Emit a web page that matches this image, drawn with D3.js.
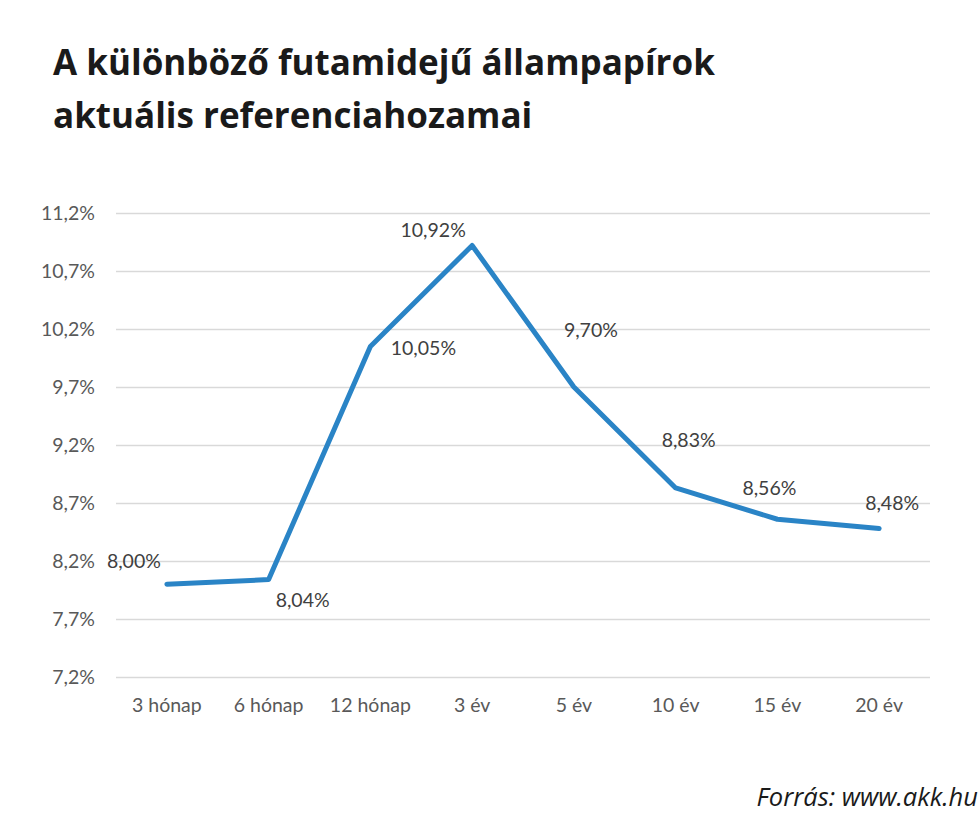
<!DOCTYPE html>
<html><head><meta charset="utf-8">
<script src="https://cdn.jsdelivr.net/npm/d3@7"></script>
<style>body{margin:0;background:#fff}svg{display:block}</style>
</head><body>
<svg id="chart" width="980" height="818"></svg>
<script>
const categories = ["3 hónap","6 hónap","12 hónap","3 év","5 év","10 év","15 év","20 év"];
const yields = [8.00, 8.04, 10.05, 10.92, 9.70, 8.83, 8.56, 8.48];
const yTicks = [7.2, 7.7, 8.2, 8.7, 9.2, 9.7, 10.2, 10.7, 11.2];
const titleLines = ["A különböző futamidejű állampapírok", "aktuális referenciahozamai"];
const sourceText = "Forrás: www.akk.hu";
// label offsets (dx, dy) from each point, in px
const labelOffsets = [[-33,-23],[34,21],[53,2],[-39,-15],[17,-57],[13,-48],[-8,-31],[13,-25]];

const svg = d3.select("#chart");
const fmt = v => v.toFixed(2).replace(".", ",") + "%";
const fmtTick = v => v.toFixed(1).replace(".", ",") + "%";

const x = d3.scaleBand().domain(categories).range([116, 930]);
const y = d3.scaleLinear().domain([7.2, 11.2]).range([677, 213]);

// title
svg.append("g").selectAll("text").data(titleLines).join("text")
  .attr("x", 53).attr("y", (d,i) => 75 + i*53)
  .attr("font-family", "'Open Sans', sans-serif").attr("font-weight", 700)
  .attr("font-size", 35).attr("fill", "#1a1a1a")
  .text(d => d);

// grid
const yAxis = d3.axisLeft(y).tickValues(yTicks).tickFormat(fmtTick).tickSize(-(930-116)).tickPadding(21);
const gy = svg.append("g").attr("transform", "translate(116,0)").call(yAxis);
gy.select(".domain").remove();
gy.selectAll(".tick line").attr("stroke", "#d9d9d9").attr("stroke-width", 1.3);
gy.selectAll(".tick text").attr("font-family", "Lato, sans-serif").attr("font-size", 19.5).attr("fill", "#595959");

const xAxis = d3.axisBottom(x).tickSize(0).tickPadding(21);
const gx = svg.append("g").attr("transform", "translate(0,677)").call(xAxis);
gx.select(".domain").remove();
gx.selectAll(".tick text").attr("font-family", "Lato, sans-serif").attr("font-size", 19.5).attr("fill", "#595959");

const pts = categories.map((c,i) => ({c, v: yields[i], i}));
const line = d3.line().x(d => x(d.c) + x.bandwidth()/2).y(d => y(d.v));
svg.append("path").datum(pts).attr("d", line)
  .attr("fill", "none").attr("stroke", "#2a84c6").attr("stroke-width", 5)
  .attr("stroke-linejoin", "round").attr("stroke-linecap", "round");

svg.append("g").selectAll("text").data(pts).join("text")
  .attr("x", d => x(d.c) + x.bandwidth()/2 + labelOffsets[d.i][0])
  .attr("y", d => y(d.v) + labelOffsets[d.i][1])
  .attr("dy", "0.35em").attr("text-anchor", "middle")
  .attr("font-family", "Lato, sans-serif").attr("font-size", 19.5).attr("fill", "#404040")
  .text(d => fmt(d.v));

svg.append("text").attr("x", 978).attr("y", 806).attr("text-anchor", "end")
  .attr("font-family", "'Open Sans', sans-serif").attr("font-style", "italic")
  .attr("font-size", 25.5).attr("fill", "#1a1a1a").text(sourceText);
</script>
</body></html>
